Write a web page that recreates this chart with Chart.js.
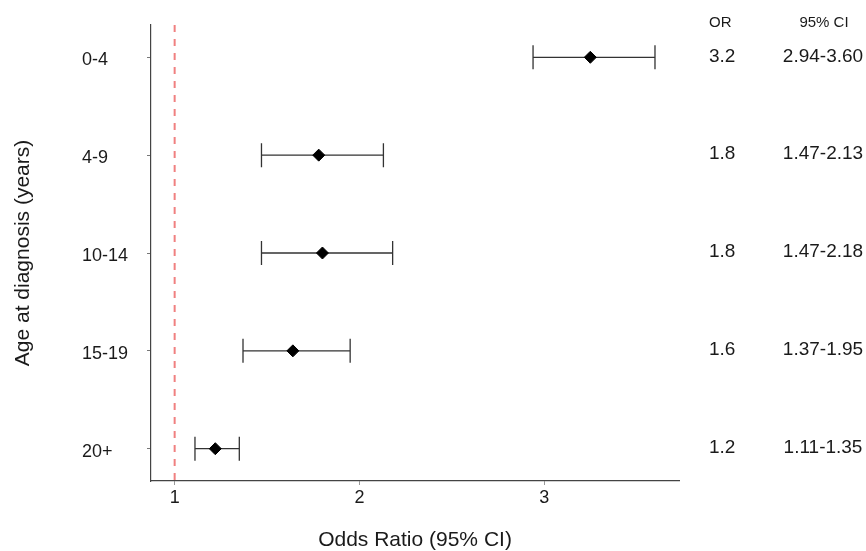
<!DOCTYPE html>
<html>
<head>
<meta charset="utf-8">
<script src="https://cdn.jsdelivr.net/npm/chart.js@4"></script>
<style>
  html, body { margin: 0; padding: 0; background: #fff; }
  #wrap { width: 866px; height: 551px; }
</style>
</head>
<body>
<div id="wrap"><canvas id="forestChart"></canvas></div>
<script>
// Age groups, top to bottom
const ageGroups = ['0-4', '4-9', '10-14', '15-19', '20+'];
// Odds ratio (as plotted) and its 95% CI bounds
const oddsRatios = [3.25, 1.78, 1.80, 1.64, 1.22];
const ciLower = [2.94, 1.47, 1.47, 1.37, 1.11];
const ciUpper = [3.60, 2.13, 2.18, 1.95, 1.35];
// Text columns on the right
const orLabels = ['3.2', '1.8', '1.8', '1.6', '1.2'];
const ciLabels = ['2.94-3.60', '1.47-2.13', '1.47-2.18', '1.37-1.95', '1.11-1.35'];
const xTicks = [1, 2, 3];
const refLine = 1;

Chart.defaults.font.family = '"Liberation Sans", Arial, sans-serif';
Chart.defaults.color = '#1a1a1a';

// reference line at OR = 1
const refLinePlugin = {
    id: 'refLine',
    beforeDatasetsDraw(chart) {
        const { ctx, chartArea, scales } = chart;
        const x = scales.x.getPixelForValue(refLine);
        ctx.save();
        ctx.strokeStyle = '#f08080';
        ctx.lineWidth = 2;
        ctx.setLineDash([7, 7]);
        ctx.beginPath();
        ctx.moveTo(x, chartArea.top);
        ctx.lineTo(x, chartArea.bottom);
        ctx.stroke();
        ctx.restore();
    }
};

// horizontal CI whiskers with caps
const errorBarPlugin = {
    id: 'errorBars',
    beforeDatasetsDraw(chart) {
        const { ctx, scales } = chart;
        ctx.save();
        ctx.strokeStyle = '#333';
        ctx.lineWidth = 1.3;
        ageGroups.forEach((g, i) => {
            const y = scales.y.getPixelForValue(i);
            const x1 = scales.x.getPixelForValue(ciLower[i]);
            const x2 = scales.x.getPixelForValue(ciUpper[i]);
            ctx.beginPath();
            ctx.moveTo(x1, y); ctx.lineTo(x2, y);
            ctx.moveTo(x1, y - 12); ctx.lineTo(x1, y + 12);
            ctx.moveTo(x2, y - 12); ctx.lineTo(x2, y + 12);
            ctx.stroke();
        });
        ctx.restore();
    }
};

// OR / 95% CI table + y title
const textPlugin = {
    id: 'sideText',
    afterDraw(chart) {
        const { ctx, scales, chartArea } = chart;
        ctx.save();
        ctx.fillStyle = '#1a1a1a';
        ctx.textBaseline = 'middle';

        ctx.font = '15px "Liberation Sans", Arial, sans-serif';
        ctx.textAlign = 'left';
        ctx.fillText('OR', 709, 23);
        ctx.textAlign = 'center';
        ctx.fillText('95% CI', 824, 23);

        ctx.font = '19px "Liberation Sans", Arial, sans-serif';
        ageGroups.forEach((g, i) => {
            const y = scales.y.getPixelForValue(i) - 1;
            ctx.textAlign = 'left';
            ctx.fillText(orLabels[i], 709, y);
            ctx.textAlign = 'center';
            ctx.fillText(ciLabels[i], 823, y);
        });

        ctx.font = '21px "Liberation Sans", Arial, sans-serif';
        ctx.translate(23, (chartArea.top + chartArea.bottom) / 2);
        ctx.rotate(-Math.PI / 2);
        ctx.textAlign = 'center';
        ctx.fillText('Age at diagnosis (years)', 0, 0);
        ctx.restore();
    }
};

new Chart(document.getElementById('forestChart'), {
    type: 'scatter',
    data: {
        datasets: [{
            data: oddsRatios.map((v, i) => ({ x: v, y: i })),
            pointStyle: 'rectRot',
            pointRadius: 6,
            pointHoverRadius: 6,
            backgroundColor: '#000',
            borderColor: '#000',
            borderWidth: 1
        }]
    },
    options: {
        responsive: true,
        maintainAspectRatio: false,
        animation: false,
        layout: { padding: { left: 82, right: 187, top: 25, bottom: 0 } },
        plugins: {
            legend: { display: false },
            tooltip: { enabled: false }
        },
        scales: {
            x: {
                type: 'linear',
                min: 0.872,
                max: 3.73,
                afterBuildTicks: (s) => { s.ticks = xTicks.map(v => ({ value: v })); },
                afterFit: (s) => { s.height = 70; },
                grid: { drawOnChartArea: false, tickLength: 4, color: '#999' },
                border: { color: '#444', width: 1.2 },
                ticks: { padding: 2, font: { size: 18 }, color: '#1a1a1a' },
                title: {
                    display: true,
                    text: 'Odds Ratio (95% CI)',
                    font: { size: 21, lineHeight: 1 },
                    padding: 0,
                    color: '#1a1a1a'
                }
            },
            y: {
                type: 'linear',
                reverse: true,
                min: -0.33,
                max: 4.33,
                afterBuildTicks: (s) => { s.ticks = ageGroups.map((g, i) => ({ value: i })); },
                afterFit: (s) => { s.width = 69; },
                grid: { drawOnChartArea: false, tickLength: 4, color: '#777' },
                border: { color: '#444', width: 1.2 },
                ticks: {
                    crossAlign: 'far',
                    labelOffset: 3,
                    font: { size: 18 },
                    color: '#1a1a1a',
                    callback: (v) => ageGroups[v]
                }
            }
        }
    },
    plugins: [refLinePlugin, errorBarPlugin, textPlugin]
});
</script>
</body>
</html>
